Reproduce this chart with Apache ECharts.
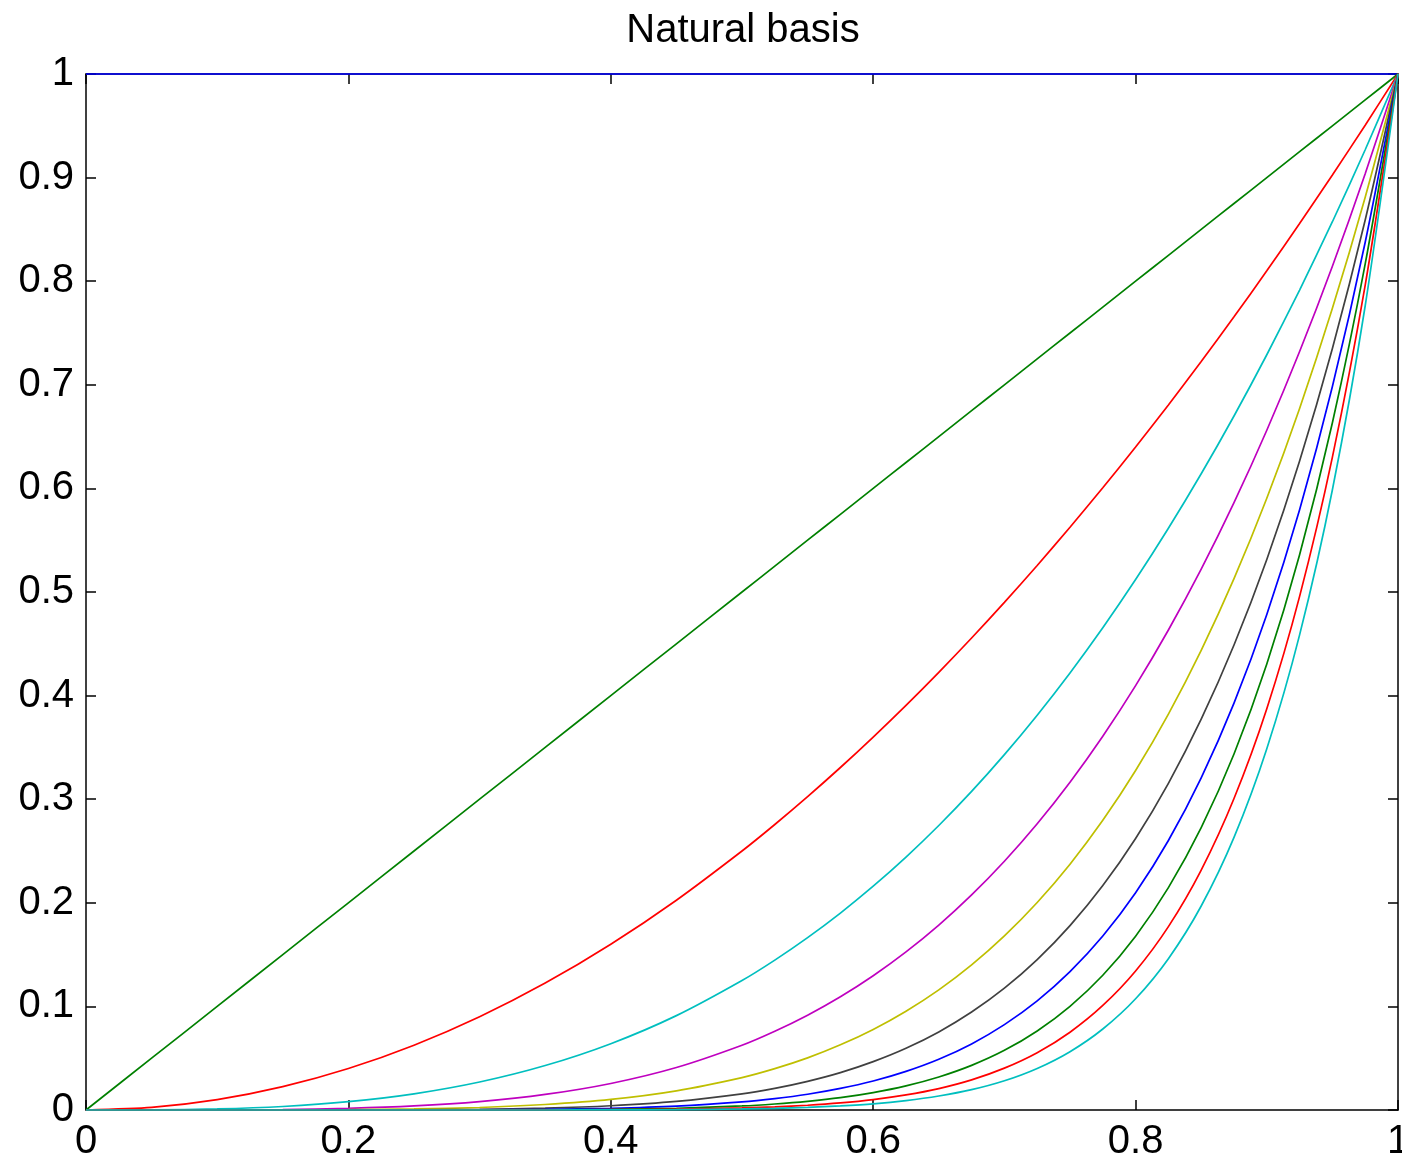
<!DOCTYPE html>
<html>
<head>
<meta charset="utf-8">
<title>Natural basis</title>
<script src="https://cdn.jsdelivr.net/npm/echarts@6/dist/echarts.min.js"></script>
<style>
html, body { margin: 0; padding: 0; background: #fff; }
#chart { width: 1402px; height: 1166px; }
</style>
</head>
<body>
<div id="chart"></div>
<script>
// sample x positions (denser from 0.5 on, where the curves bend)
var xs = [0, 0.05, 0.1, 0.15, 0.2, 0.25, 0.3, 0.35, 0.4, 0.45, 0.5, 0.525, 0.55, 0.575, 0.6, 0.625, 0.65, 0.675, 0.7, 0.725, 0.75, 0.775, 0.8, 0.825, 0.85, 0.875, 0.9, 0.925, 0.95, 0.975, 1]

var p0 = [1, 1, 1, 1, 1, 1, 1, 1, 1, 1, 1, 1, 1, 1, 1, 1, 1, 1, 1, 1, 1, 1, 1, 1, 1, 1, 1, 1, 1, 1, 1]
var p1 = [0, 0.05, 0.1, 0.15, 0.2, 0.25, 0.3, 0.35, 0.4, 0.45, 0.5, 0.525, 0.55, 0.575, 0.6, 0.625, 0.65, 0.675, 0.7, 0.725, 0.75, 0.775, 0.8, 0.825, 0.85, 0.875, 0.9, 0.925, 0.95, 0.975, 1]
var p2 = [0, 0.0025, 0.01, 0.0225, 0.04, 0.0625, 0.09, 0.1225, 0.16, 0.2025, 0.25, 0.2756, 0.3025, 0.3306, 0.36, 0.3906, 0.4225, 0.4556, 0.49, 0.5256, 0.5625, 0.6006, 0.64, 0.6806, 0.7225, 0.7656, 0.81, 0.8556, 0.9025, 0.9506, 1]
var p3 = [0, 0.0001, 0.001, 0.0034, 0.008, 0.0156, 0.027, 0.0429, 0.064, 0.0911, 0.125, 0.1447, 0.1664, 0.1901, 0.216, 0.2441, 0.2746, 0.3075, 0.343, 0.3811, 0.4219, 0.4655, 0.512, 0.5615, 0.6141, 0.6699, 0.729, 0.7915, 0.8574, 0.9269, 1]
var p4 = [0, 0, 0.0001, 0.0005, 0.0016, 0.0039, 0.0081, 0.015, 0.0256, 0.041, 0.0625, 0.076, 0.0915, 0.1093, 0.1296, 0.1526, 0.1785, 0.2076, 0.2401, 0.2763, 0.3164, 0.3608, 0.4096, 0.4633, 0.522, 0.5862, 0.6561, 0.7321, 0.8145, 0.9037, 1]
var p5 = [0, 0, 0, 0.0001, 0.0003, 0.001, 0.0024, 0.0053, 0.0102, 0.0185, 0.0313, 0.0399, 0.0503, 0.0629, 0.0778, 0.0954, 0.116, 0.1401, 0.1681, 0.2003, 0.2373, 0.2796, 0.3277, 0.3822, 0.4437, 0.5129, 0.5905, 0.6772, 0.7738, 0.8811, 1]
var p6 = [0, 0, 0, 0, 0.0001, 0.0002, 0.0007, 0.0018, 0.0041, 0.0083, 0.0156, 0.0209, 0.0277, 0.0361, 0.0467, 0.0596, 0.0754, 0.0946, 0.1176, 0.1452, 0.178, 0.2167, 0.2621, 0.3153, 0.3772, 0.4488, 0.5314, 0.6264, 0.7351, 0.8591, 1]
var p7 = [0, 0, 0, 0, 0, 0.0001, 0.0002, 0.0006, 0.0016, 0.0037, 0.0078, 0.011, 0.0152, 0.0208, 0.028, 0.0373, 0.049, 0.0638, 0.0824, 0.1053, 0.1335, 0.1679, 0.2097, 0.2601, 0.3206, 0.3927, 0.4783, 0.5794, 0.6983, 0.8376, 1]
var p8 = [0, 0, 0, 0, 0, 0, 0.0001, 0.0002, 0.0007, 0.0017, 0.0039, 0.0058, 0.0084, 0.0119, 0.0168, 0.0233, 0.0319, 0.0431, 0.0576, 0.0763, 0.1001, 0.1301, 0.1678, 0.2146, 0.2725, 0.3436, 0.4305, 0.536, 0.6634, 0.8167, 1]
var p9 = [0, 0, 0, 0, 0, 0, 0, 0.0001, 0.0003, 0.0008, 0.002, 0.003, 0.0046, 0.0069, 0.0101, 0.0146, 0.0207, 0.0291, 0.0404, 0.0553, 0.0751, 0.1009, 0.1342, 0.177, 0.2316, 0.3007, 0.3874, 0.4958, 0.6302, 0.7962, 1]
var p10 = [0, 0, 0, 0, 0, 0, 0, 0, 0.0001, 0.0003, 0.001, 0.0016, 0.0025, 0.004, 0.006, 0.0091, 0.0135, 0.0196, 0.0282, 0.0401, 0.0563, 0.0782, 0.1074, 0.1461, 0.1969, 0.2631, 0.3487, 0.4586, 0.5987, 0.7763, 1]

var curves = [p0, p1, p2, p3, p4, p5, p6, p7, p8, p9, p10]
var colors = ['#0000ff', '#008000', '#ff0000', '#00bfbf', '#bf00bf', '#bfbf00', '#404040',
              '#0000ff', '#008000', '#ff0000', '#00bfbf']

var font = 'Liberation Sans, Arial, Helvetica, sans-serif'

var chart = echarts.init(document.getElementById('chart'))

var series = curves.map(function (ys, k) {
    return {
        name: 'x^' + k,
        type: 'line',
        data: xs.map(function (x, i) { return [x, ys[i]] }),
        smooth: 0.25,
        showSymbol: false,
        clip: false,
        lineStyle: { color: colors[k], width: 1.7 },
        z: 3
    }
})

function xAxisCfg(pos, labels) {
    return {
        type: 'value', position: pos, min: 0, max: 1, interval: 0.2,
        axisLine: { show: true, onZero: false, lineStyle: { color: '#000', width: 1.5 } },
        axisTick: { show: true, inside: true, length: 10, lineStyle: { color: '#000', width: 1.5 } },
        axisLabel: { show: labels, color: '#000', fontSize: 40, fontFamily: font, margin: 12 },
        splitLine: { show: false }
    }
}
function yAxisCfg(pos, labels) {
    return {
        type: 'value', position: pos, min: 0, max: 1, interval: 0.1,
        axisLine: { show: true, onZero: false, lineStyle: { color: '#000', width: 1.5 } },
        axisTick: { show: true, inside: true, length: 10, lineStyle: { color: '#000', width: 1.5 } },
        axisLabel: { show: labels, color: '#000', fontSize: 40, fontFamily: font, margin: 12 },
        splitLine: { show: false }
    }
}

var option = {
    backgroundColor: '#fff',
    animation: false,
    title: {
        text: 'Natural basis',
        left: 738,
        textAlign: 'center',
        top: 6,
        textStyle: { color: '#000', fontSize: 40, fontWeight: 'normal', fontFamily: font }
    },
    grid: { left: 86, right: 4, top: 74, bottom: 56, outerBoundsMode: 'none' },
    xAxis: [xAxisCfg('bottom', true), xAxisCfg('top', false)],
    yAxis: [yAxisCfg('left', true), yAxisCfg('right', false)],
    series: series
}

chart.setOption(option)
</script>
</body>
</html>
